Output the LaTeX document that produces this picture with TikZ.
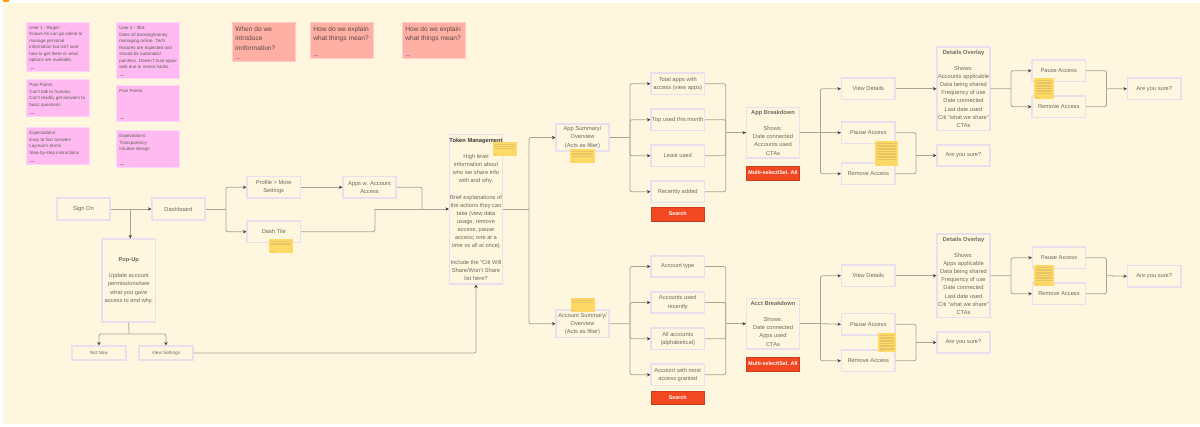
\documentclass[tikz,border=0pt]{standalone}
\usepackage{fontspec}
\setmainfont{Liberation Sans}
\usetikzlibrary{arrows.meta}
\definecolor{bgc}{HTML}{FFF6DF}
\definecolor{frame}{HTML}{E9E0EE}
\definecolor{ink}{HTML}{6E6A60}
\definecolor{dark}{HTML}{3E3B36}
\definecolor{pinkn}{HTML}{FFBBF1}
\definecolor{salm}{HTML}{FFAFA3}
\definecolor{yel}{HTML}{FFD966}
\definecolor{redn}{HTML}{F24822}
\definecolor{wire}{HTML}{A9A497}
\tikzset{
  x=0.75pt,y=-0.75pt,
  flow/.style={draw=frame,line width=0.8pt,fill=bgc,text=ink,font=\fontsize{4.3}{6.1}\selectfont,align=center,inner sep=0pt},
  notepink/.style={fill=pinkn,draw=pinkn!60!white,line width=0.4pt,text=ink!85!black,font=\fontsize{3.4}{4.88}\selectfont,align=left,inner sep=0pt},
  notesalm/.style={fill=salm,draw=salm!60!white,line width=0.4pt,text=dark!85!salm,font=\fontsize{4.95}{7.35}\selectfont,align=left,inner sep=0pt},
  noteyel/.style={fill=yel,draw=none,inner sep=0pt},
  redbtn/.style={fill=redn,draw=redn!85!black,line width=0.4pt,text=white,font=\bfseries\fontsize{4}{6}\selectfont,align=center,inner sep=0pt},
  wirel/.style={draw=wire,line width=0.6pt,rounded corners=1.5pt},
  wirea/.style={wirel,-{Stealth[length=2.6pt,width=2.4pt,color=dark]}}
}
% \bx{style}{name}{x1}{y1}{x2}{y2}{text}
\newcommand{\bx}[7]{%
  \pgfmathsetmacro{\cxx}{(#3+#5)/2}\pgfmathsetmacro{\cyy}{(#4+#6)/2}%
  \pgfmathsetmacro{\wdd}{(#5-#3)*0.75}\pgfmathsetmacro{\htt}{(#6-#4)*0.75}%
  \node[#1,minimum width=\wdd pt,minimum height=\htt pt] (#2) at (\cxx,\cyy) {#7};}
% pink/salmon notes: text hangs from the top, author dash at the bottom
\newcommand{\nt}[7]{%
  \pgfmathsetmacro{\cxx}{(#3+#5)/2}\pgfmathsetmacro{\cyy}{(#4+#6)/2}%
  \pgfmathsetmacro{\wdd}{(#5-#3)*0.75}\pgfmathsetmacro{\htt}{(#6-#4)*0.75}%
  \node[#1,minimum width=\wdd pt,minimum height=\htt pt] (#2) at (\cxx,\cyy) {};
  \node[#1,draw=none,fill=none,anchor=north west] at ([xshift=2.5pt,yshift=-3.2pt]#2.north west) {#7};
  \draw[ink!45!pinkn,line width=0.3pt] ([xshift=3pt,yshift=2.6pt]#2.south west) -- ++(4.4,0);}
% yellow note with tiny unreadable lines: name,x1,y1,x2,y2,number of lines
\newcommand{\yl}[6]{%
  \pgfmathsetmacro{\cxx}{(#2+#4)/2}\pgfmathsetmacro{\cyy}{(#3+#5)/2}%
  \pgfmathsetmacro{\wdd}{(#4-#2)*0.75}\pgfmathsetmacro{\htt}{(#5-#3)*0.75}%
  \node[noteyel,minimum width=\wdd pt,minimum height=\htt pt] (#1) at (\cxx,\cyy) {};
  \foreach \i in {1,...,#6}{\draw[yel!82!ink,line width=0.3pt] ([xshift=1.4pt,yshift=-0.6pt-\i*1.2pt]#1.north west) -- ([xshift=-1.6pt,yshift=-0.6pt-\i*1.2pt]#1.north east);}
  \draw[yel!82!ink,line width=0.3pt] ([xshift=1.4pt,yshift=1.6pt]#1.south west) -- ++(3,0);}
\begin{document}
\begin{tikzpicture}
\useasboundingbox (0,0) rectangle (1200,427);
\fill[white] (0,0) rectangle (1200,427);
\fill[bgc] (3,3) rectangle (1200,424);
\fill[orange!75!yellow] (3,0) rectangle (9,2);

% pink notes
\nt{notepink}{u1}{26}{22}{89}{71}{User 1 - Roger:\\Knows he can go online to\\manage personal\\information but isn't sure\\how to get there or what\\options are available.}
\nt{notepink}{u1p}{26}{79}{89}{116}{Pain Points:\\Can't talk to humans\\Can't readily get answers to\\basic questions}
\nt{notepink}{u1e}{26}{127}{89}{164}{Expectations:\\Easy to find answers\\Layman's terms\\Step-by-step instructions}
\nt{notepink}{u2}{116}{22}{179}{78}{User 2 - Iffat:\\Does all banking/money\\managing online. Tech\\features are expected and\\should be automatic/\\painless. Doesn't trust apps/\\web due to recent hacks.}
\nt{notepink}{u2p}{116}{85}{179}{121}{Pain Points:}
\nt{notepink}{u2e}{116}{130}{179}{167}{Expectations:\\Transparency\\Intuitive design}
% salmon notes
\nt{notesalm}{q1}{232}{22}{295}{61}{When do we\\introduce\\innformation?}
\nt{notesalm}{q2}{310}{22}{373}{58}{How do we explain\\what things mean?}
\nt{notesalm}{q3}{402}{22}{465}{58}{How do we explain\\what things mean?}

% flow boxes
\bx{flow}{sign}{57}{198}{110}{220}{Sign On}
\bx{flow}{dash}{152}{198}{205}{220}{Dashboard}
\bx{flow}{prof}{247}{176.5}{300.5}{198}{Profile > More\\Settings}
\bx{flow}{apps}{343}{176.5}{396}{198}{Apps w. Account\\Access}
\bx{flow}{tile}{247}{221}{300.5}{242.5}{Dash Tile}
\bx{flow}{pop}{102}{239}{155.5}{322}{\textbf{Pop-Up}\\[6.1pt]Update account\\permissions/see\\what you gave\\access to and why.}
\bx{flow,font=\fontsize{3.5}{5}\selectfont}{notnow}{72}{346}{126}{360}{Not Now}
\bx{flow,font=\fontsize{3.5}{5}\selectfont}{viewset}{139}{346}{193}{360}{View Settings}
\bx{flow}{token}{449.5}{134.7}{502.5}{284}{\textcolor{dark}{\textbf{Token Management}}\\[6.1pt]High level\\information about\\who we share info\\with and why.\\[6.1pt]Brief explanations of\\the actions they can\\take (view data\\usage, remove\\access, pause\\access; one at a\\time vs all at once)\\[6.1pt]Include the ``Citi Will\\Share/Won't Share\\list here?}

% upper branch
\bx{flow}{appsum}{556}{124}{609}{151}{App Summary/\\Overview\\(Acts as filter)}
\bx{flow}{total}{651}{73}{704.5}{94.5}{Total apps with\\access (view apps)}
\bx{flow}{topu}{651}{109}{704.5}{130.5}{Top used this month}
\bx{flow}{least}{651}{145}{704.5}{166.5}{Least used}
\bx{flow}{recent}{651}{181}{704.5}{202.5}{Recently added}
\bx{redbtn}{srcha}{651}{207}{704.5}{221}{Search}
\bx{flow}{appb}{746.5}{107.5}{799.5}{158}{\textbf{App Breakdown}\\[6.1pt]Shows:\\Date connected\\Accounts used\\CTAs}
\bx{redbtn}{multia}{746.5}{166}{799.5}{180}{Multi-select/Sel. All}
\bx{flow}{viewa}{841.5}{78}{895}{99.5}{View Details}
\bx{flow}{pausea}{841.5}{122}{895}{143.5}{Pause Access}
\bx{flow}{rema}{841.5}{163}{895}{184.5}{Remove Access}
\bx{flow}{deta}{937}{47}{990}{130.5}{\textbf{Details Overlay}\\[6.1pt]Shows:\\Accounts applicable\\Data being shared\\Frequency of use\\Date connected\\Last date used\\Citi ``what we share''\\CTAs}
\bx{flow}{surea}{937}{145}{990}{166}{Are you sure?}
\bx{flow}{pauseb}{1032}{60}{1085.5}{81.5}{Pause Access}
\bx{flow}{remb}{1032}{96}{1085.5}{117.5}{Remove Access}
\bx{flow}{sureb}{1127.5}{78}{1181}{99.5}{Are you sure?}

% lower branch
\bx{flow}{acsum}{556}{310}{609}{337.5}{Account Summary/\\Overview\\(Acts as filter)}
\bx{flow}{actype}{651}{256}{704.5}{277}{Account type}
\bx{flow}{acrec}{651}{292}{704.5}{313}{Accounts used\\recently}
\bx{flow}{acall}{651}{328}{704.5}{349.5}{All accounts\\(alphabetical)}
\bx{flow}{acmost}{651}{364}{704.5}{385.5}{Account with most\\access granted}
\bx{redbtn}{srchb}{651}{391}{704.5}{404.5}{Search}
\bx{flow}{acb}{746.5}{298.5}{799.5}{349}{\textbf{Acct Breakdown}\\[6.1pt]Shows:\\Date connected\\Apps used\\CTAs}
\bx{redbtn}{multib}{746.5}{357}{799.5}{371}{Multi-select/Sel. All}
\bx{flow}{viewc}{841.5}{265}{895}{286.5}{View Details}
\bx{flow}{pausec}{841.5}{313.5}{895}{335}{Pause Access}
\bx{flow}{remc}{841.5}{350}{895}{371.5}{Remove Access}
\bx{flow}{detc}{937}{234}{990}{317.5}{\textbf{Details Overlay}\\[6.1pt]Shows:\\Apps applicable\\Data being shared\\Frequency of use\\Date connected\\Last date used\\Citi ``what we share''\\CTAs}
\bx{flow}{surec}{937}{332}{990}{353}{Are you sure?}
\bx{flow}{paused}{1032.5}{247}{1085.5}{268.5}{Pause Access}
\bx{flow}{remd}{1032.5}{283}{1085.5}{304.5}{Remove Access}
\bx{flow}{sured}{1127.5}{265.5}{1181}{287}{Are you sure?}

% junction coordinates
\coordinate (jsign) at (130.3,209);
\coordinate (jdash) at (226,209);
\coordinate (jtok) at (422,209);
\coordinate (jtile) at (375,209);
\coordinate (jpop) at (129,334);
\coordinate (jtoken) at (529,209);
\coordinate (jas) at (630,137.5);
\coordinate (jam) at (725.7,132.7);
\coordinate (jab) at (820.4,132.7);
\coordinate (jsa) at (916,155.5);
\coordinate (jda) at (1011,88.7);
\coordinate (jpa) at (1106.5,88.7);
\coordinate (jcs) at (630,323.7);
\coordinate (jcm) at (725.7,323.7);
\coordinate (jcb) at (820.4,323.7);
\coordinate (jsc) at (916,342.5);
\coordinate (jdc) at (1011,275.7);
\coordinate (jpc) at (1106.5,275.7);
\coordinate (jvs) at (476,353);

% connectors
\draw[wirea] (sign) -- (dash);
\draw[wirea] (jsign) -- (jsign |- pop.north);
\draw[wirel] (dash) -- (jdash);
\draw[wirea] (jdash) |- (prof);
\draw[wirea] (jdash) |- (tile);
\draw[wirea] (prof) -- (apps);
\draw[wirel] (apps.east) -| (jtok);
\draw[wirel] (tile.east) -| (jtile);
\draw[wirea] (jtile) -- (jtile -| token.west);
\draw[wirel] (pop.south) -- (jpop);
\draw[wirea] (jpop) -| (notnow.north);
\draw[wirea] (jpop) -| (viewset.north);
\draw[wirea] (viewset.east) -- (jvs) -- (token.south -| jvs);
\draw[wirel] (token.east |- jtoken) -- (jtoken);
\draw[wirea] (jtoken) |- (appsum);
\draw[wirea] (jtoken) |- (acsum);

\draw[wirel] (appsum) -- (jas);
\foreach \n in {total,topu,least,recent}{\draw[wirea] (jas) |- (\n.west);\draw[wirel] (\n.east) -| (jam);}
\draw[wirea] (jam) -- (jam -| appb.west);
\draw[wirel] (jam -| appb.east) -- (jab);
\draw[wirea] (jab) |- (viewa.west);
\draw[wirea] (jab) -- (jab -| pausea.west);
\draw[wirea] (jab) |- (rema.west);
\draw[wirea] (viewa) -- (viewa -| deta.west);
\draw[wirel] (pausea.east |- jab) -| (jsa);
\draw[wirel] (rema.east) -| (jsa);
\draw[wirea] (jsa) -- (surea.west |- jsa);
\draw[wirel] (viewa -| deta.east) -- (jda);
\draw[wirea] (jda) |- (pauseb.west);
\draw[wirea] (jda) |- (remb.west);
\draw[wirel] (pauseb.east) -| (jpa);
\draw[wirel] (remb.east) -| (jpa);
\draw[wirea] (jpa) -- (sureb.west);

\draw[wirel] (acsum) -- (jcs);
\foreach \n in {actype,acrec,acall,acmost}{\draw[wirea] (jcs) |- (\n.west);\draw[wirel] (\n.east) -| (jcm);}
\draw[wirea] (jcm) -- (jcm -| acb.west);
\draw[wirel] (jcm -| acb.east) -- (jcb);
\draw[wirea] (jcb) |- (viewc.west);
\draw[wirea] (jcb) -- (pausec.west);
\draw[wirea] (jcb) |- (remc.west);
\draw[wirea] (viewc) -- (viewc -| detc.west);
\draw[wirel] (pausec.east) -| (jsc);
\draw[wirel] (remc.east) -| (jsc);
\draw[wirea] (jsc) -- (surec.west);
\draw[wirel] (viewc -| detc.east) -- (jdc);
\draw[wirea] (jdc) |- (paused.west);
\draw[wirea] (jdc) |- (remd.west);
\draw[wirel] (paused.east) -| (jpc);
\draw[wirel] (remd.east) -| (jpc);
\draw[wirea] (jpc) -- (sured.west);

% yellow notes on top
\yl{y1}{269}{239}{293}{253}{3}
\yl{y2}{492.5}{142.5}{516.5}{156.5}{3}
\yl{y3}{570}{149}{594.5}{163}{4}
\yl{y4}{875}{141}{898}{166}{11}
\yl{y5}{1034}{78}{1054}{99}{9}
\yl{y6}{570.5}{298.5}{594.5}{312.5}{2}
\yl{y7}{878}{333}{896}{352}{10}
\yl{y8}{1034}{265}{1054}{286}{9}
\end{tikzpicture}
\end{document}
